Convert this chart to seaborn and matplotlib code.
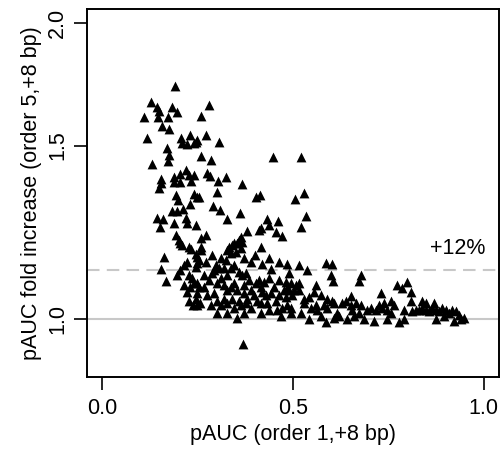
import matplotlib
matplotlib.use("Agg")
import matplotlib.pyplot as plt
import seaborn as sns
import pandas as pd
from matplotlib.ticker import FixedLocator, NullLocator, FixedFormatter

# pAUC (order 1, +8 bp)
pauc_o1 = [
    0.191, 0.128, 0.144, 0.149, 0.183, 0.196, 0.110, 0.147, 0.173, 0.259,
    0.157, 0.175, 0.118, 0.207, 0.230, 0.209, 0.223, 0.241, 0.249, 0.170,
    0.175, 0.259, 0.173, 0.131,
    0.280, 0.272, 0.246, 0.306, 0.285, 0.448,
    0.154, 0.154, 0.149, 0.188, 0.204, 0.220, 0.228, 0.241, 0.188, 0.204,
    0.233, 0.194, 0.199, 0.241, 0.249, 0.230, 0.183, 0.196, 0.212, 0.144,
    0.160, 0.188, 0.152, 0.220, 0.223, 0.246, 0.194, 0.202, 0.209, 0.228,
    0.259,
    0.275, 0.283, 0.304, 0.325, 0.366, 0.301, 0.254, 0.403, 0.414, 0.291,
    0.309, 0.361, 0.327, 0.272, 0.380, 0.411, 0.416, 0.432, 0.437, 0.461,
    0.455, 0.471, 0.364, 0.359, 0.346, 0.332, 0.259, 0.416,
    0.529, 0.505, 0.534, 0.521, 0.521,
    0.204, 0.233, 0.162, 0.154, 0.168, 0.249, 0.254, 0.223, 0.215, 0.204,
    0.196, 0.228, 0.236, 0.215, 0.230, 0.241, 0.254, 0.249, 0.246, 0.238,
    0.257,
    0.259, 0.246, 0.288, 0.312, 0.340, 0.353, 0.366, 0.327, 0.338, 0.351,
    0.364, 0.390, 0.419, 0.442, 0.484, 0.249, 0.246, 0.319, 0.306, 0.338,
    0.346, 0.288, 0.280, 0.267, 0.249, 0.312, 0.301, 0.359, 0.366, 0.377,
    0.403, 0.411, 0.424, 0.416, 0.450, 0.346, 0.338, 0.327, 0.353, 0.372,
    0.390, 0.398, 0.419, 0.429, 0.442, 0.463, 0.476, 0.490, 0.293, 0.301,
    0.319, 0.327, 0.340, 0.359, 0.364, 0.377, 0.390, 0.249, 0.416, 0.432,
    0.455, 0.471, 0.484, 0.495, 0.301, 0.327, 0.372, 0.353, 0.469, 0.495,
    0.369,
    0.272, 0.298, 0.325, 0.372, 0.401, 0.437, 0.463, 0.267, 0.293, 0.327,
    0.385, 0.437, 0.463, 0.275, 0.285, 0.312, 0.346, 0.380, 0.406, 0.437,
    0.416, 0.458, 0.319, 0.372, 0.223, 0.228,
    0.516, 0.537, 0.586, 0.602, 0.490, 0.599, 0.605, 0.678, 0.673, 0.482,
    0.495, 0.508, 0.516, 0.484, 0.503, 0.516, 0.497, 0.482, 0.560, 0.555,
    0.529, 0.542, 0.573, 0.589, 0.602, 0.607, 0.652, 0.639, 0.628, 0.652,
    0.665, 0.678, 0.704, 0.730, 0.725, 0.738, 0.521, 0.573, 0.607, 0.641,
    0.686, 0.712, 0.586, 0.547, 0.563, 0.589, 0.615, 0.654, 0.673, 0.694,
    0.529, 0.560, 0.581, 0.620, 0.660, 0.542, 0.764,
    0.772, 0.785, 0.798, 0.809, 0.757, 0.733, 0.746, 0.717, 0.757, 0.791,
    0.809, 0.838, 0.848, 0.869, 0.746, 0.777, 0.791,
    0.812, 0.822, 0.830, 0.838, 0.848, 0.856, 0.864, 0.874, 0.882, 0.890,
    0.901, 0.908, 0.916, 0.927, 0.935, 0.948, 0.874, 0.921, 0.940, 0.895,
]

# pAUC fold increase (order 5, +8 bp)
fold_increase = [
    1.723, 1.663, 1.640, 1.628, 1.640, 1.621, 1.602, 1.602, 1.602, 1.609,
    1.572, 1.561, 1.528, 1.528, 1.539, 1.510, 1.506, 1.510, 1.521, 1.492,
    1.468, 1.465, 1.447, 1.437,
    1.648, 1.539, 1.514, 1.514, 1.451, 1.461,
    1.387, 1.374, 1.358, 1.394, 1.404, 1.417, 1.400, 1.400, 1.378, 1.378,
    1.381, 1.336, 1.320, 1.339, 1.330, 1.308, 1.287, 1.287, 1.293, 1.266,
    1.263, 1.251, 1.239, 1.266, 1.251, 1.245, 1.216, 1.202, 1.188, 1.182,
    1.207,
    1.407, 1.397, 1.381, 1.394, 1.371, 1.345, 1.330, 1.330, 1.336, 1.302,
    1.290, 1.281, 1.263, 1.216, 1.227, 1.230, 1.236, 1.263, 1.245, 1.257,
    1.224, 1.213, 1.210, 1.202, 1.193, 1.182, 1.182, 1.182,
    1.342, 1.324, 1.272, 1.239, 1.461,
    1.193, 1.176, 1.155, 1.122, 1.091, 1.155, 1.146, 1.141, 1.133, 1.120,
    1.107, 1.107, 1.099, 1.081, 1.076, 1.086, 1.076, 1.061, 1.048, 1.031,
    1.038,
    1.174, 1.163, 1.160, 1.152, 1.188, 1.193, 1.196, 1.174, 1.165, 1.168,
    1.179, 1.141, 1.136, 1.122, 1.136, 1.138, 1.128, 1.125, 1.125, 1.125,
    1.133, 1.112, 1.094, 1.076, 1.086, 1.099, 1.086, 1.114, 1.107, 1.112,
    1.086, 1.094, 1.089, 1.076, 1.076, 1.086, 1.076, 1.068, 1.068, 1.061,
    1.068, 1.056, 1.063, 1.056, 1.061, 1.056, 1.068, 1.068, 1.061, 1.043,
    1.048, 1.038, 1.048, 1.043, 1.031, 1.036, 1.026, 1.031, 1.038, 1.036,
    1.043, 1.026, 1.031, 1.024, 1.014, 1.014, 1.012, 1.002, 1.007, 1.012,
    0.943,
    1.141, 1.133, 1.146, 1.152, 1.160, 1.152, 1.141, 1.107, 1.120, 1.107,
    1.094, 1.099, 1.094, 1.056, 1.031, 1.031, 1.026, 1.048, 1.043, 1.019,
    1.012, 1.019, 1.081, 1.081, 1.063, 1.043,
    1.133, 1.120, 1.138, 1.136, 1.112, 1.107, 1.091, 1.107, 1.091, 1.089,
    1.086, 1.081, 1.086, 1.073, 1.068, 1.068, 1.056, 1.051, 1.081, 1.063,
    1.048, 1.051, 1.056, 1.048, 1.043, 1.036, 1.053, 1.043, 1.036, 1.031,
    1.036, 1.031, 1.026, 1.061, 1.031, 1.038, 1.012, 1.007, 1.002, 1.000,
    1.000, 0.995, 0.991, 1.024, 1.019, 1.024, 1.014, 1.019, 1.014, 1.019,
    1.036, 1.031, 1.031, 1.007, 1.007, 1.000, 1.031,
    1.081, 1.073, 1.089, 1.063, 1.043, 1.026, 1.019, 1.019, 1.012, 1.019,
    1.043, 1.043, 1.038, 1.036, 0.998, 0.991, 1.000,
    1.017, 1.021, 1.019, 1.024, 1.019, 1.017, 1.024, 1.019, 1.017, 1.024,
    1.019, 1.014, 1.019, 1.017, 1.009, 1.002, 0.998, 0.995, 0.998, 1.007,
]

x_ticks = [0.0, 0.5, 1.0]
x_tick_labels = ["0.0", "0.5", "1.0"]
y_ticks = [1.0, 1.5, 2.0]
y_tick_labels = ["1.0", "1.5", "2.0"]
ref_level = 1.0
threshold_level = 1.12
threshold_label = "+12%"

df = pd.DataFrame({"pauc_o1": pauc_o1, "fold": fold_increase})

sns.set_theme(style="white")
plt.rcParams["font.family"] = ["Liberation Sans", "DejaVu Sans"]
plt.rcParams["text.color"] = "black"
plt.rcParams["axes.labelcolor"] = "black"
plt.rcParams["xtick.color"] = "black"
plt.rcParams["ytick.color"] = "black"

FS = 15.5

fig = plt.figure(figsize=(5.03, 4.58), dpi=100)
ax = fig.add_axes([0.173, 0.177, 0.819, 0.803])

ax.axhline(ref_level, color="#c8c8c8", lw=1.5, zorder=1)
ax.axhline(threshold_level, color="#c8c8c8", lw=1.5, ls=(0, (6, 3.5)), zorder=1)

sns.scatterplot(data=df, x="pauc_o1", y="fold", marker="^", color="black",
                s=50, linewidth=0, ax=ax, zorder=3)

ax.set_yscale("log")
ax.set_xlim(-0.04, 1.04)
ax.set_ylim(0.872, 2.065)

ax.xaxis.set_major_locator(FixedLocator(x_ticks))
ax.xaxis.set_major_formatter(FixedFormatter(x_tick_labels))
ax.yaxis.set_major_locator(FixedLocator(y_ticks))
ax.yaxis.set_major_formatter(FixedFormatter(y_tick_labels))
ax.yaxis.set_minor_locator(NullLocator())
ax.xaxis.set_minor_locator(NullLocator())

ax.tick_params(axis="both", which="major", direction="out", length=9.5, width=1.2,
               color="black", labelcolor="black", labelsize=FS, bottom=True, left=True)
ax.tick_params(axis="x", pad=6)
ax.tick_params(axis="y", pad=4)
for lab in ax.get_yticklabels():
    lab.set_rotation(90)
    lab.set_va("center")

for sp in ax.spines.values():
    sp.set_color("black")
    sp.set_linewidth(1.4)

ax.set_xlabel("pAUC (order 1,+8 bp)", fontsize=FS, labelpad=3, color="black")
ax.set_ylabel("pAUC fold increase (order 5,+8 bp)", fontsize=FS, labelpad=4, color="black")

ax.text(0.932, 1.179, threshold_label, fontsize=FS, ha="center", va="center", color="black")

fig.savefig("out.png", dpi=100)
